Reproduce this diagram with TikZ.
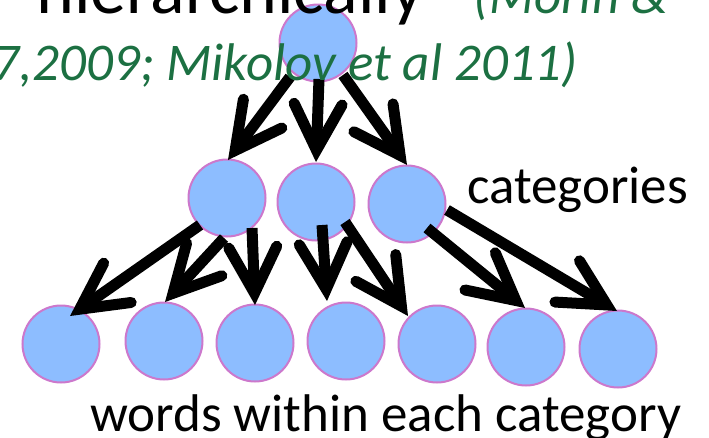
\documentclass[tikz,border=0pt]{standalone}
\usepackage{fontspec}
\setmainfont{Carlito}
\usetikzlibrary{arrows.meta,calc}
\definecolor{circfill}{RGB}{141,189,255}
\definecolor{circline}{RGB}{204,120,204}
\definecolor{citegreen}{RGB}{28,112,66}
\begin{document}
\begin{tikzpicture}[x=1pt,y=-1pt,
  unit/.style={circle, draw=circline, line width=2pt, fill=circfill, minimum size=77pt, inner sep=0pt},
  link/.style={line width=11pt, -{Straight Barb[length=46pt,width=48pt,line cap=round,line join=miter]}},
  lab/.style={inner sep=0pt, font=\fontsize{53}{60}\selectfont},
  titlefont/.style={inner sep=0pt, font=\fontsize{72}{80}\selectfont},
  cite/.style={inner sep=0pt, text=citegreen, font=\itshape\fontsize{53}{60}\selectfont}]
\useasboundingbox (0,0) rectangle (709,437);
\clip (0,0) rectangle (709,437);
% nodes
\node[unit] (T) at (318,43) {};
\node[unit] (C1) at (227,198) {};
\node[unit] (C2) at (316,202) {};
\node[unit] (C3) at (407,204) {};
\node[unit] (b1) at (61,344) {};
\node[unit] (b2) at (164,341) {};
\node[unit] (b3) at (255,343) {};
\node[unit] (b4) at (346,341) {};
\node[unit] (b5) at (437,344) {};
\node[unit] (b6) at (526,347) {};
\node[unit] (b7) at (618,349) {};
% connectors
\draw[link] ($(T.center)+(-28,34)$) -- ($(C1.center)+(1,-38)$);
\draw[link] ($(T.center)+(1,36)$) -- ($(C2.center)+(0,-40)$);
\draw[link] ($(T.center)+(25,32)$) -- ($(C3.center)+(0,-39)$);
\draw[link] ($(C1.center)+(-27,27)$) -- ($(b1.center)+(9,-28)$);
\draw[link] ($(C1.center)+(-3,40)$) -- ($(b2.center)+(1,-39)$);
\draw[link] ($(C1.center)+(25,30)$) -- ($(b3.center)+(0,-38)$);
\draw[link] ($(C2.center)+(6,23)$) -- ($(b4.center)+(-19,-40)$);
\draw[link] ($(C2.center)+(29,20)$) -- ($(b5.center)+(-29,-28)$);
\draw[link] ($(C3.center)+(20,24)$) -- ($(b6.center)+(-1,-39)$);
\draw[link] ($(C3.center)+(40,6)$) -- ($(b7.center)+(-1,-38)$);
% texts
\node[titlefont, anchor=base east] (title) at (424,13) {hierarchically};
\node[cite, anchor=base west] (cite1) at (473,13) {(Morin \&};
\node[cite, anchor=base east] (cite2) at (578,80) {7,2009; Mikolov et al 2011)};
\node[lab, anchor=base west] (cat) at (467,203) {categories};
\node[lab, anchor=base west] (words) at (90,431) {words within each category};
\end{tikzpicture}
\end{document}
